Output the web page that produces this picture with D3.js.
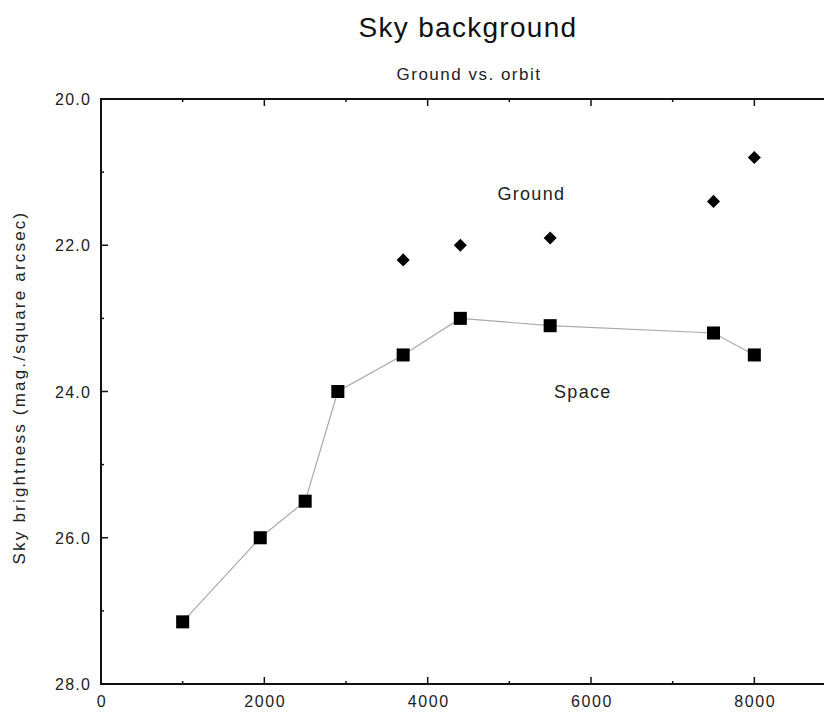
<!DOCTYPE html>
<html>
<head>
<meta charset="utf-8">
<script src="https://cdn.jsdelivr.net/npm/d3@7"></script>
<style>
  body { margin: 0; background: #fff; }
  svg { display: block; font-family: "Liberation Sans", Arial, sans-serif; }
</style>
</head>
<body>
<svg id="chart" width="824" height="716"></svg>
<script>
// sky background: ground vs. orbit

const spaceX = [1000, 1950, 2500, 2900, 3700, 4400, 5500, 7500, 8000];
const spaceY = [27.15, 26.0, 25.5, 24.0, 23.5, 23.0, 23.1, 23.2, 23.5];
const groundX = [3700, 4400, 5500, 7500, 8000];
const groundY = [22.2, 22.0, 21.9, 21.4, 20.8];
const xTicks = [0, 2000, 4000, 6000, 8000];
const yTicks = [20, 22, 24, 26, 28];
const labels = [
  { text: "Ground", x: 5270, y: 21.3 },
  { text: "Space", x: 5900, y: 24.0 }
];

const margin = { left: 101, top: 99 };
const plotW = 735, plotH = 585;

const svg = d3.select("#chart");

const x = d3.scaleLinear().domain([0, 9000]).range([margin.left, margin.left + plotW]);
const y = d3.scaleLinear().domain([20, 28]).range([margin.top, margin.top + plotH]);

// titles
svg.append("text")
  .attr("x", 468).attr("y", 37)
  .attr("text-anchor", "middle")
  .attr("font-size", 28)
  .attr("letter-spacing", 1.3)
  .attr("fill", "#111")
  .text("Sky background");

svg.append("text")
  .attr("x", 469).attr("y", 80)
  .attr("text-anchor", "middle")
  .attr("font-size", 17)
  .attr("letter-spacing", 1.5)
  .attr("fill", "#222")
  .text("Ground vs. orbit");

svg.append("text")
  .attr("transform", "translate(25," + (margin.top + plotH / 2 - 4) + ") rotate(-90)")
  .attr("text-anchor", "middle")
  .attr("font-size", 17)
  .attr("letter-spacing", 2.2)
  .attr("fill", "#222")
  .text("Sky brightness (mag./square arcsec)");

// frame
svg.append("rect")
  .attr("x", margin.left).attr("y", margin.top)
  .attr("width", plotW).attr("height", plotH)
  .attr("fill", "none")
  .attr("stroke", "#111")
  .attr("stroke-width", 2);

// inward ticks, major + minor
let minorX = d3.range(1000, 9000, 2000);
let minorY = d3.range(21, 28, 2);
let ticks = svg.append("g").attr("stroke", "#111");

function vTick(v, len, w) {
  ticks.append("line").attr("x1", x(v)).attr("x2", x(v))
    .attr("y1", margin.top + plotH).attr("y2", margin.top + plotH - len).attr("stroke-width", w);
  ticks.append("line").attr("x1", x(v)).attr("x2", x(v))
    .attr("y1", margin.top).attr("y2", margin.top + len).attr("stroke-width", w);
}
function hTick(v, len, w) {
  ticks.append("line").attr("y1", y(v)).attr("y2", y(v))
    .attr("x1", margin.left).attr("x2", margin.left + len).attr("stroke-width", w);
}
xTicks.forEach(v => vTick(v, 7, 1.5));
minorX.forEach(v => vTick(v, 3, 1.5));
yTicks.forEach(v => hTick(v, 7, 1.5));
minorY.forEach(v => hTick(v, 3, 1.5));

svg.append("g").selectAll("text")
  .data(xTicks).join("text")
  .attr("x", d => x(d) + 1).attr("y", margin.top + plotH + 23)
  .attr("text-anchor", "middle")
  .attr("font-size", 16)
  .attr("letter-spacing", 1.6)
  .attr("fill", "#222")
  .text(d => d);

svg.append("g").selectAll("text")
  .data(yTicks).join("text")
  .attr("x", margin.left - 10).attr("y", d => y(d) + 6)
  .attr("text-anchor", "end")
  .attr("font-size", 16)
  .attr("letter-spacing", 1.2)
  .attr("fill", "#222")
  .text(d => d3.format(".1f")(d));

// space line + squares
let space = spaceX.map((v, i) => [v, spaceY[i]]);
let ground = groundX.map((v, i) => [v, groundY[i]]);

svg.append("path")
  .datum(space)
  .attr("fill", "none")
  .attr("stroke", "#aaa")
  .attr("stroke-width", 1.2)
  .attr("d", d3.line().x(d => x(d[0])).y(d => y(d[1])));

svg.append("g").selectAll("path")
  .data(space).join("path")
  .attr("transform", d => "translate(" + x(d[0]) + "," + y(d[1]) + ")")
  .attr("d", d3.symbol(d3.symbolSquare, 170))
  .attr("fill", "#000");

svg.append("g").selectAll("path")
  .data(ground).join("path")
  .attr("transform", d => "translate(" + x(d[0]) + "," + y(d[1]) + ") rotate(45)")
  .attr("d", d3.symbol(d3.symbolSquare, 85))
  .attr("fill", "#000");

svg.append("g").selectAll("text")
  .data(labels).join("text")
  .attr("x", d => x(d.x)).attr("y", d => y(d.y) + 6)
  .attr("text-anchor", "middle")
  .attr("font-size", 18)
  .attr("letter-spacing", 1.3)
  .attr("fill", "#222")
  .text(d => d.text);
</script>
</body>
</html>
